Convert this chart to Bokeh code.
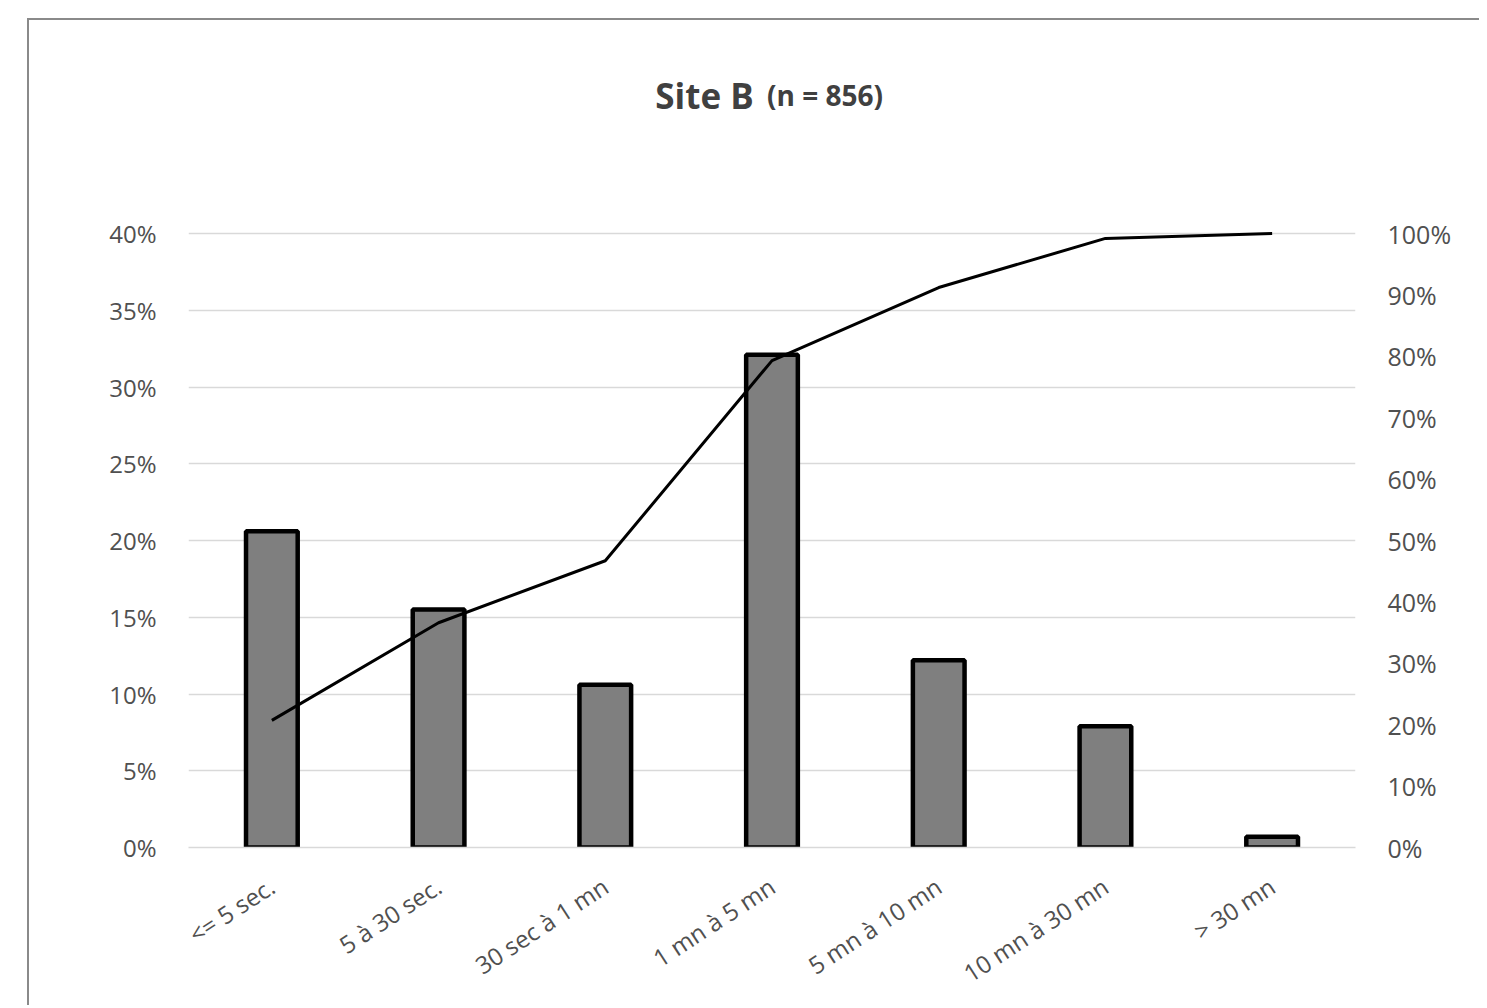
from bokeh.plotting import figure
from bokeh.models import (Range1d, LinearAxis, FixedTicker, NumeralTickFormatter,
                          Label, ColumnDataSource)
from bokeh.embed import file_html
from bokeh.resources import INLINE

# ---- data ----
categories = ["<= 5 sec.", "5 à 30 sec.", "30 sec à 1 mn", "1 mn à 5 mn",
              "5 mn à 10 mn", "10 mn à 30 mn", "> 30 mn"]
share = [0.206, 0.155, 0.106, 0.321, 0.122, 0.079, 0.007]
cumulative = [0.207, 0.366, 0.467, 0.793, 0.912, 0.992, 1.000]
left_ticks = [0.0, 0.05, 0.10, 0.15, 0.20, 0.25, 0.30, 0.35, 0.40]
right_ticks = [0.0, 0.1, 0.2, 0.3, 0.4, 0.5, 0.6, 0.7, 0.8, 0.9, 1.0]
title_main = "Site B"
title_sub = "(n = 856)"

FONT = "Open Sans"
TICK_COLOR = "#505050"

# plot area: the value scale occupies 614 px; the frame is extended upward
# by 173 px (empty, no grid) so the title can live inside it
SCALE_PX = 614
EXTRA_PX = 173
STRETCH = (SCALE_PX + EXTRA_PX) / SCALE_PX

src = ColumnDataSource(dict(cat=categories, share=share, cum=cumulative))

p = figure(x_range=categories, y_range=Range1d(0, 0.40 * STRETCH),
           frame_width=1167, frame_height=SCALE_PX + EXTRA_PX,
           min_border_left=159, min_border_top=40,
           min_border_right=124, min_border_bottom=153,
           output_backend="svg", toolbar_location=None,
           background_fill_color="white", border_fill_color="white")
p.margin = (18, 0, 0, 27)
p.styles = {"border-top": "2px solid #8a8a8a", "border-left": "2px solid #8a8a8a"}
p.outline_line_color = None

p.extra_y_ranges = {"cum": Range1d(0, 1.0 * STRETCH)}

# bars
p.vbar(x="cat", top="share", width=0.31, source=src,
       fill_color="#7f7f7f", line_color="black", line_width=4.5)

# cumulative line
p.line(x="cat", y="cum", source=src, y_range_name="cum",
       line_color="black", line_width=3, line_join="round")

# grid
p.xgrid.grid_line_color = None
p.ygrid.grid_line_color = "#d9d9d9"
p.ygrid.grid_line_width = 1.5

# left axis
la = p.yaxis[0]
la.ticker = FixedTicker(ticks=left_ticks)
la.formatter = NumeralTickFormatter(format="0%")
la.axis_line_color = None
la.major_tick_line_color = None
la.minor_tick_line_color = None
la.major_label_standoff = 26
la.major_label_text_font = FONT
la.major_label_text_font_size = "24px"
la.major_label_text_color = TICK_COLOR

# right axis
ra = LinearAxis(y_range_name="cum", ticker=FixedTicker(ticks=right_ticks),
                formatter=NumeralTickFormatter(format="0%"))
ra.axis_line_color = None
ra.major_tick_line_color = None
ra.minor_tick_line_color = None
ra.major_label_standoff = 26
ra.major_label_text_font = FONT
ra.major_label_text_font_size = "25px"
ra.major_label_text_color = TICK_COLOR
p.add_layout(ra, "right")

# bottom axis
xa = p.xaxis[0]
xa.axis_line_color = "#d9d9d9"
xa.axis_line_width = 1.5
xa.major_tick_line_color = None
xa.minor_tick_line_color = None
xa.major_label_orientation = 0.58
xa.major_label_standoff = 30
xa.major_label_text_font = FONT
xa.major_label_text_font_size = "24px"
xa.major_label_text_color = TICK_COLOR

# title (two sizes on one line), inside the extended upper part of the frame
p.add_layout(Label(x=3.39, y=0.4900, x_units="data", y_units="data",
                   text=title_main, text_align="right", text_baseline="alphabetic",
                   text_font=FONT, text_font_style="bold", text_font_size="35px",
                   text_color="#404040"))
p.add_layout(Label(x=3.47, y=0.4900, x_units="data", y_units="data",
                   text=title_sub, text_align="left", text_baseline="alphabetic",
                   text_font=FONT, text_font_style="bold", text_font_size="28px",
                   text_color="#404040"))

open("out.html", "w").write(file_html(p, INLINE))
